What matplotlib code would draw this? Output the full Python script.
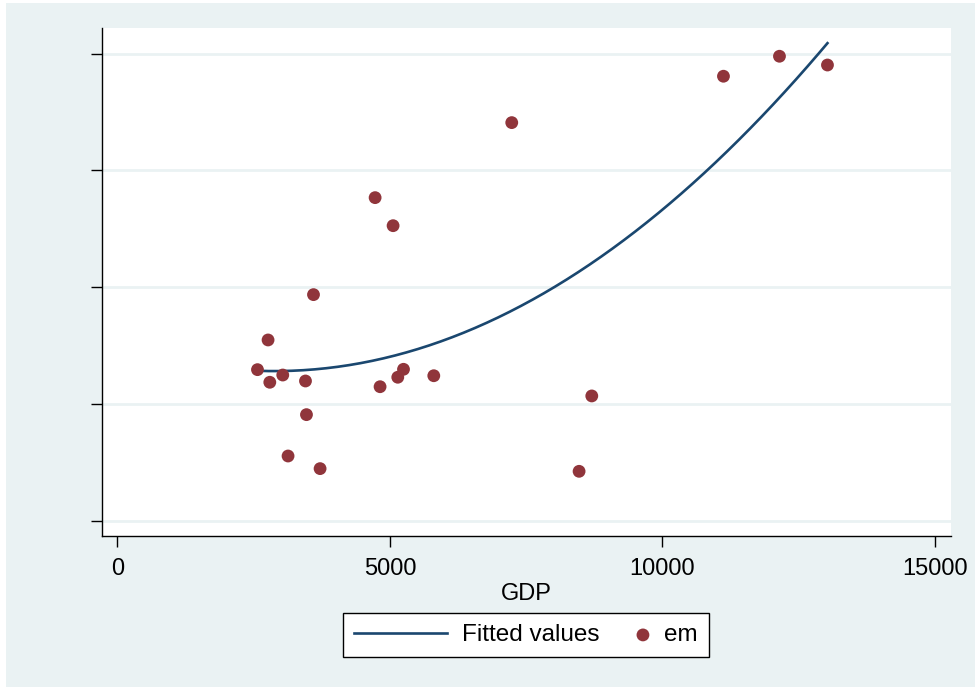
import numpy as np
import matplotlib.pyplot as plt
from matplotlib.patches import Rectangle
from matplotlib.legend_handler import HandlerPathCollection

plt.rcParams['font.family'] = ['Liberation Sans', 'DejaVu Sans']

# datos
gdp = [2570, 2764, 2796, 3034, 3131, 3451, 3469, 3598, 3719, 4729, 4820,
       5059, 5145, 5250, 5806, 7237, 8473, 8706, 11123, 12151, 13032]
em = [1.295, 1.549, 1.187, 1.249, 0.556, 1.198, 0.910, 1.937, 0.448, 2.767, 1.149,
      2.527, 1.230, 1.298, 1.243, 3.409, 0.425, 1.070, 3.806, 3.977, 3.902]

y_ticks = [0, 1, 2, 3, 4]
x_ticks = [0, 5000, 10000, 15000]

bg = '#EAF2F3'
navy = '#1A476F'
maroon = '#90353B'


class SmallMarker(HandlerPathCollection):
    # caja mas estrecha para el marcador de la leyenda
    def legend_artist(self, legend, orig_handle, fontsize, handlebox):
        handlebox.width = 0.45 * fontsize
        return super().legend_artist(legend, orig_handle, fontsize, handlebox)


W, H = 975, 687
fig = plt.figure(figsize=(W / 100, H / 100), dpi=100, facecolor='white')
fig.patches.append(Rectangle((6 / W, 0), 1 - 6 / W, 1 - 3.4 / H,
                             transform=fig.transFigure, facecolor=bg,
                             edgecolor='none', zorder=-1))

ax = fig.add_axes([102 / W, (H - 535.7) / H, (950.7 - 102) / W, (535.7 - 27.5) / H])
ax.set_facecolor('white')

# ajuste cuadratico (qfit)
coefs = np.polyfit(gdp, em, 2)
xf = np.linspace(min(gdp), max(gdp), 200)
yf = np.polyval(coefs, xf)

ax.plot(xf, yf, color=navy, lw=1.9, label='Fitted values', zorder=3)
sc = ax.scatter(gdp, em, s=85, color=maroon, edgecolors='none', label='em', zorder=4)

ax.set_xlim(-284, 15294)
ax.set_ylim(-0.126, 4.223)
ax.set_xticks(x_ticks)
ax.set_yticks(y_ticks)
ax.set_yticklabels([])
ax.grid(axis='y', color=bg, lw=2)
ax.set_axisbelow(True)

for side in ['top', 'right']:
    ax.spines[side].set_visible(False)
for side in ['left', 'bottom']:
    ax.spines[side].set_color('black')
    ax.spines[side].set_linewidth(1.0)

ax.tick_params(axis='both', direction='out', length=8, width=1, color='black',
               labelsize=17, pad=8)
ax.set_xlabel('GDP', fontsize=17, labelpad=2)

leg = ax.legend(loc='center', bbox_to_anchor=(526 / W, (H - 635.3) / H),
                bbox_transform=fig.transFigure, ncol=2, fontsize=17.5,
                frameon=True, fancybox=False, edgecolor='black', facecolor='white',
                framealpha=1, handlelength=3.8, columnspacing=1.55, handletextpad=0.65,
                borderpad=0.45, handler_map={sc: SmallMarker()})
leg.get_frame().set_linewidth(1.0)

fig.savefig('out.png', dpi=100, facecolor=fig.get_facecolor())
